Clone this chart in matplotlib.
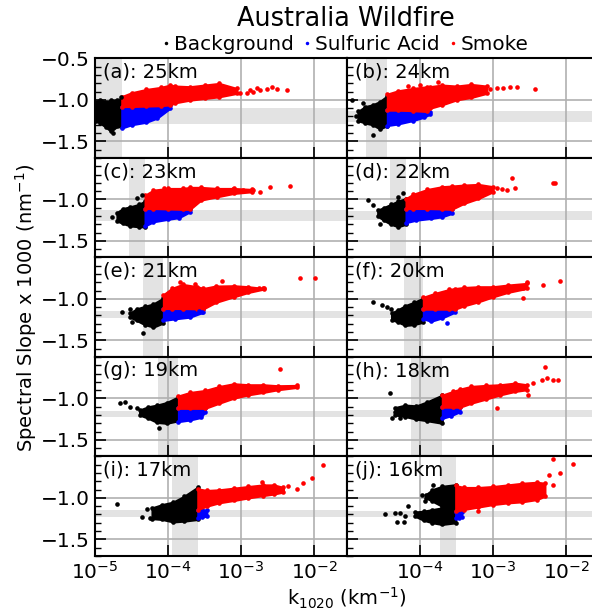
import numpy as np
import matplotlib.pyplot as plt
from matplotlib.ticker import MultipleLocator, NullLocator, FixedLocator
from matplotlib.lines import Line2D

altitudes = [25, 24, 23, 22, 21, 20, 19, 18, 17, 16]
letters = ['a', 'b', 'c', 'd', 'e', 'f', 'g', 'h', 'i', 'j']

# background threshold band (log10 k) and sulfate slope band
bg_band_lo = [-5.05, -4.74, -4.54, -4.41, -4.34, -4.22, -4.14, -4.13, -3.94, -3.73]
bg_band_hi = [-4.634, -4.448, -4.315, -4.192, -4.064, -3.955, -3.858, -3.695, -3.593, -3.512]
sa_band_lo = [-1.29, -1.27, -1.26, -1.25, -1.23, -1.23, -1.22, -1.22, -1.23, -1.23]
sa_band_hi = [-1.10, -1.14, -1.13, -1.14, -1.14, -1.14, -1.15, -1.14, -1.15, -1.16]

# Background cloud envelopes (log10 k, slope)
bg_logk = [
    [-4.99, -4.93, -4.85, -4.78, -4.70, -4.634],
    [-4.85, -4.75, -4.65, -4.55, -4.448],
    [-4.70, -4.62, -4.52, -4.40, -4.315],
    [-4.58, -4.50, -4.40, -4.30, -4.192],
    [-4.52, -4.43, -4.32, -4.20, -4.064],
    [-4.39, -4.30, -4.20, -4.08, -3.955],
    [-4.39, -4.27, -4.15, -4.02, -3.858],
    [-4.34, -4.20, -4.05, -3.90, -3.695],
    [-4.22, -4.08, -3.93, -3.78, -3.593],
    [-4.07, -3.95, -3.83, -3.70, -3.512],
]
bg_upper = [
    [-1.05, -1.00, -1.02, -1.00, -1.00, -0.98],
    [-1.14, -1.08, -1.06, -1.02, -0.95],
    [-1.16, -1.11, -1.09, -1.06, -1.02],
    [-1.13, -1.10, -1.06, -1.02, -0.99],
    [-1.17, -1.12, -1.09, -1.06, -0.99],
    [-1.17, -1.13, -1.08, -1.04, -0.99],
    [-1.14, -1.10, -1.08, -1.05, -0.98],
    [-1.11, -1.08, -1.09, -1.04, -0.96],
    [-1.12, -1.08, -1.05, -0.98, -0.87],
    [-1.17, -1.16, -1.14, -1.12, -1.08],
]
bg_lower = [
    [-1.25, -1.28, -1.33, -1.38, -1.32, -1.33],
    [-1.25, -1.28, -1.30, -1.35, -1.31],
    [-1.26, -1.29, -1.32, -1.33, -1.33],
    [-1.20, -1.25, -1.30, -1.33, -1.30],
    [-1.22, -1.26, -1.31, -1.34, -1.29],
    [-1.25, -1.28, -1.32, -1.31, -1.28],
    [-1.20, -1.24, -1.29, -1.30, -1.27],
    [-1.20, -1.22, -1.25, -1.27, -1.30],
    [-1.25, -1.26, -1.29, -1.28, -1.26],
    [-1.22, -1.27, -1.30, -1.32, -1.30],
]
# second background lobe in panel (j)
bg_lobe_logk = [-3.92, -3.83, -3.70, -3.512]
bg_lobe_upper = [-0.96, -0.90, -0.86, -0.84]
bg_lobe_lower = [-1.00, -1.04, -1.10, -1.12]

bg_pts_logk = [
    [-4.97, -4.76, -4.64],
    [-4.936, -4.776, -4.639, -4.88],
    [-4.771, -4.429, -4.360],
    [-4.708, -4.640, -4.549, -4.229, -4.30],
    [-4.634, -4.520, -4.497, -4.337],
    [-4.640, -4.526, -4.457, -4.40],
    [-4.657, -4.589, -4.520, -4.43, -4.13],
    [-4.412, -4.389, -4.274, -4.34, -4.30],
    [-4.703, -4.360, -4.292, -4.25],
    [-4.480, -4.343, -4.320, -4.27, -4.20, -4.160, -4.22, -3.977, -3.932, -3.818],
]
bg_pts_slope = [
    [-1.02, -1.40, -0.97],
    [-1.003, -1.035, -1.419, -1.20],
    [-1.211, -0.989, -0.948],
    [-1.009, -1.070, -1.292, -0.928, -0.97],
    [-1.157, -1.116, -1.278, -1.407],
    [-1.043, -1.076, -1.096, -1.12],
    [-1.058, -1.049, -1.098, -1.12, -1.36],
    [-0.936, -1.239, -1.239, -1.16, -1.13],
    [-1.071, -1.236, -1.138, -1.24],
    [-1.197, -1.177, -1.287, -1.18, -1.22, -1.098, -1.29, -0.961, -1.039, -0.843],
]

# Sulfuric acid envelopes
sa_logk = [
    [-4.634, -4.50, -4.30, -4.15, -3.97],
    [-4.448, -4.30, -4.10, -3.95, -3.86],
    [-4.315, -4.20, -4.00, -3.85, -3.70],
    [-4.192, -4.05, -3.85, -3.70, -3.567],
    [-4.064, -3.90, -3.70, -3.516],
    [-3.955, -3.85, -3.70, -3.521],
    [-3.858, -3.70, -3.55, -3.493],
    [-3.695, -3.58, -3.453],
    [-3.593, -3.53, -3.47],
    [-3.512, -3.47, -3.43],
]
sa_upper = [
    [-1.08, -1.08, -1.075, -1.07, -1.06],
    [-1.124, -1.124, -1.13, -1.14, -1.15],
    [-1.11, -1.11, -1.115, -1.12, -1.12],
    [-1.11, -1.11, -1.11, -1.115, -1.12],
    [-1.116, -1.116, -1.12, -1.12],
    [-1.124, -1.124, -1.124, -1.124],
    [-1.12, -1.12, -1.12, -1.12],
    [-1.106, -1.106, -1.106],
    [-1.14, -1.14, -1.15],
    [-1.165, -1.165, -1.165],
]
sa_lower = [
    [-1.34, -1.30, -1.27, -1.22, -1.10],
    [-1.31, -1.29, -1.25, -1.21, -1.17],
    [-1.32, -1.27, -1.24, -1.22, -1.15],
    [-1.28, -1.25, -1.23, -1.21, -1.17],
    [-1.26, -1.24, -1.22, -1.16],
    [-1.24, -1.27, -1.23, -1.16],
    [-1.28, -1.26, -1.23, -1.16],
    [-1.24, -1.21, -1.16],
    [-1.24, -1.23, -1.22],
    [-1.24, -1.24, -1.23],
]
sa_pts_logk = [[], [], [], [], [-3.58, -3.53], [-3.63], [], [], [], []]
sa_pts_slope = [[], [], [], [], [-1.15, -1.155], [-1.29], [], [], [], []]

# Smoke envelopes
sm_logk = [
    [-4.634, -4.50, -4.30, -4.10, -3.97, -3.90, -3.70, -3.50, -3.30, -3.06],
    [-4.448, -4.30, -4.10, -3.90, -3.86, -3.70, -3.50, -3.30, -3.09],
    [-4.315, -4.20, -4.00, -3.80, -3.70, -3.55, -3.33, -3.10, -2.85],
    [-4.192, -4.10, -3.90, -3.70, -3.567, -3.40, -3.20, -3.00],
    [-4.064, -3.95, -3.80, -3.60, -3.516, -3.35, -3.10, -2.90, -2.69],
    [-3.955, -3.80, -3.60, -3.521, -3.40, -3.20, -3.00, -2.80, -2.54],
    [-3.858, -3.70, -3.493, -3.30, -3.10, -2.90, -2.70, -2.50, -2.24],
    [-3.695, -3.55, -3.453, -3.30, -3.10, -2.90, -2.70, -2.54],
    [-3.593, -3.47, -3.30, -3.10, -2.90, -2.70, -2.55, -2.42],
    [-3.512, -3.40, -3.20, -3.00, -2.80, -2.60, -2.40, -2.29],
]
sm_upper = [
    [-0.96, -0.914, -0.874, -0.849, -0.821, -0.833, -0.841, -0.821, -0.801, -0.862],
    [-0.93, -0.890, -0.862, -0.841, -0.84, -0.821, -0.833, -0.813, -0.833],
    [-0.95, -0.888, -0.868, -0.868, -0.855, -0.855, -0.868, -0.868, -0.880],
    [-0.99, -0.940, -0.880, -0.847, -0.839, -0.827, -0.819, -0.847],
    [-0.95, -0.874, -0.825, -0.853, -0.874, -0.845, -0.841, -0.853, -0.874],
    [-0.98, -0.934, -0.886, -0.875, -0.862, -0.853, -0.853, -0.833, -0.813],
    [-0.97, -0.928, -0.904, -0.856, -0.823, -0.835, -0.835, -0.847, -0.843],
    [-0.96, -0.916, -0.888, -0.855, -0.843, -0.835, -0.815, -0.835],
    [-0.89, -0.91, -0.902, -0.882, -0.862, -0.843, -0.843, -0.874],
    [-0.85, -0.874, -0.874, -0.862, -0.843, -0.823, -0.811, -0.823],
]
sm_lower = [
    [-1.08, -1.08, -1.075, -1.07, -1.06, -1.035, -1.003, -0.983, -0.963, -0.922],
    [-1.124, -1.124, -1.13, -1.14, -1.10, -1.06, -1.00, -0.971, -0.922],
    [-1.11, -1.11, -1.115, -1.12, -1.12, -1.009, -0.969, -0.928, -0.908],
    [-1.11, -1.11, -1.11, -1.115, -1.12, -1.049, -0.989, -0.908],
    [-1.116, -1.116, -1.116, -1.12, -1.12, -1.043, -0.975, -0.922, -0.882],
    [-1.124, -1.124, -1.124, -1.124, -1.084, -1.035, -0.975, -0.922, -0.874],
    [-1.12, -1.12, -1.12, -1.058, -0.997, -0.957, -0.928, -0.896, -0.868],
    [-1.106, -1.106, -1.106, -1.058, -1.009, -0.957, -0.916, -0.896],
    [-1.14, -1.10, -1.059, -1.031, -1.00, -0.972, -0.953, -0.929],
    [-1.16, -1.14, -1.11, -1.08, -1.06, -1.047, -1.02, -0.98],
]
sm_pts_logk = [
    [-3.013, -2.922, -2.831, -2.739, -2.648, -2.580, -2.511, -2.374, -2.785, -2.876],
    [-3.041, -2.950, -2.859, -2.767, -2.676, -2.425, -4.160, -4.0, -3.749],
    [-3.242, -3.105, -2.968, -2.831, -2.739, -2.602, -2.328, -4.06],
    [-2.950, -2.813, -2.745, -2.699, -2.174, -2.152, -2.880],
    [-3.835, -3.630, -3.264, -2.191, -1.986, -2.76, -2.70],
    [-2.585, -2.540, -2.311, -2.083, -2.594],
    [-2.465],
    [-2.288, -2.265, -2.448, -2.33, -2.174, -2.106, -2.950, -2.517],
    [-2.351, -2.237, -2.146, -2.032, -1.872, -2.717],
    [-3.201, -2.229, -2.174, -2.083, -2.183, -1.900],
]
sm_pts_slope = [
    [-0.922, -0.914, -0.902, -0.882, -0.874, -0.841, -0.874, -0.882, -0.862, -0.882],
    [-0.874, -0.862, -0.862, -0.849, -0.841, -0.870, -0.833, -0.821, -0.781],
    [-0.900, -0.880, -0.888, -0.888, -0.908, -0.847, -0.839, -0.86],
    [-0.868, -0.888, -0.746, -0.868, -0.807, -0.807, -0.870],
    [-0.793, -0.825, -0.785, -0.744, -0.744, -0.87, -0.87],
    [-0.866, -0.801, -0.833, -0.781, -0.995],
    [-0.645],
    [-0.621, -0.755, -0.815, -0.78, -0.783, -0.783, -1.110, -0.956],
    [-0.862, -0.890, -0.823, -0.756, -0.598, -0.803],
    [-1.157, -0.724, -0.843, -0.705, -0.535, -0.594],
]

RED = '#ff0000'
BLUE = '#0000ff'
BLACK = '#000000'
BAND = '#e3e3e3'


def cloud(ax, xs, up, lo, color):
    k = 10 ** np.array(xs)
    ax.fill_between(k, lo, up, color=color, lw=1.5, zorder=3)
    ax.scatter(k, up, s=11, color=color, lw=0, zorder=3)
    ax.scatter(k, lo, s=11, color=color, lw=0, zorder=3)


fig, axes = plt.subplots(5, 2, figsize=(5.92, 6.15), dpi=100)
plt.subplots_adjust(left=0.1605, right=1.0118, top=0.905, bottom=0.096,
                    wspace=0, hspace=0)

for i in range(10):
    ax = axes[i // 2, i % 2]
    ax.set_xscale('log')
    ax.set_xlim(1e-5, 10 ** -1.55)
    ax.set_ylim(-1.7, -0.5)

    ax.axvspan(10 ** bg_band_lo[i], 10 ** bg_band_hi[i], color=BAND, lw=0, zorder=0.2)
    ax.axhspan(sa_band_lo[i], sa_band_hi[i], color=BAND, lw=0, zorder=0.2)

    cloud(ax, bg_logk[i], bg_upper[i], bg_lower[i], BLACK)
    if i == 9:
        cloud(ax, bg_lobe_logk, bg_lobe_upper, bg_lobe_lower, BLACK)
    cloud(ax, sa_logk[i], sa_upper[i], sa_lower[i], BLUE)
    cloud(ax, sm_logk[i], sm_upper[i], sm_lower[i], RED)

    ax.scatter(10 ** np.array(bg_pts_logk[i]), bg_pts_slope[i], s=11, color=BLACK, lw=0, zorder=3)
    if sa_pts_logk[i]:
        ax.scatter(10 ** np.array(sa_pts_logk[i]), sa_pts_slope[i], s=11, color=BLUE, lw=0, zorder=3)
    ax.scatter(10 ** np.array(sm_pts_logk[i]), sm_pts_slope[i], s=11, color=RED, lw=0, zorder=3)

    ax.set_axisbelow(True)
    ax.grid(True, color='#b0b0b0', lw=1.2)
    if i % 2 == 0:
        ax.xaxis.set_major_locator(FixedLocator([1e-5, 1e-4, 1e-3, 1e-2]))
    else:
        ax.xaxis.set_major_locator(FixedLocator([1e-4, 1e-3, 1e-2]))
    ax.xaxis.set_minor_locator(NullLocator())
    if i < 2:
        ax.yaxis.set_major_locator(FixedLocator([-1.5, -1.0, -0.5]))
    else:
        ax.yaxis.set_major_locator(FixedLocator([-1.5, -1.0]))
    ax.yaxis.set_minor_locator(MultipleLocator(0.1))
    ax.tick_params(which='major', direction='in', length=8, width=1.2, labelsize=14.5)
    ax.tick_params(which='minor', direction='in', length=4, width=1.0)
    for sp in ax.spines.values():
        sp.set_linewidth(1.5)
    if i < 8:
        ax.tick_params(labelbottom=False)
    if i % 2 == 1:
        ax.tick_params(labelleft=False)
    ax.text(0.03, 0.955, '(%s): %dkm' % (letters[i], altitudes[i]),
            transform=ax.transAxes, ha='left', va='top', fontsize=14)

fig.text(26 / 592, 0.5, 'Spectral Slope x 1000 (nm$^{-1}$)', rotation=90,
         ha='center', va='center', fontsize=14)
fig.text(347 / 592, 1 - 598 / 615, 'k$_{1020}$ (km$^{-1}$)', ha='center', va='center', fontsize=14)
fig.text(346 / 592, 1 - 19 / 615, 'Australia Wildfire', ha='center', va='center', fontsize=18.4)

handles = [Line2D([], [], ls='', marker='o', ms=2.5, color=c, mec='none') for c in (BLACK, BLUE, RED)]
fig.legend(handles, ['Background', 'Sulfuric Acid', 'Smoke'], loc='center',
           bbox_to_anchor=(346 / 592, 1 - 44 / 615), ncol=3, frameon=False, fontsize=14.4,
           handlelength=0.3, handletextpad=0.25, columnspacing=0.5, borderpad=0)

fig.savefig('out.png', dpi=100)
